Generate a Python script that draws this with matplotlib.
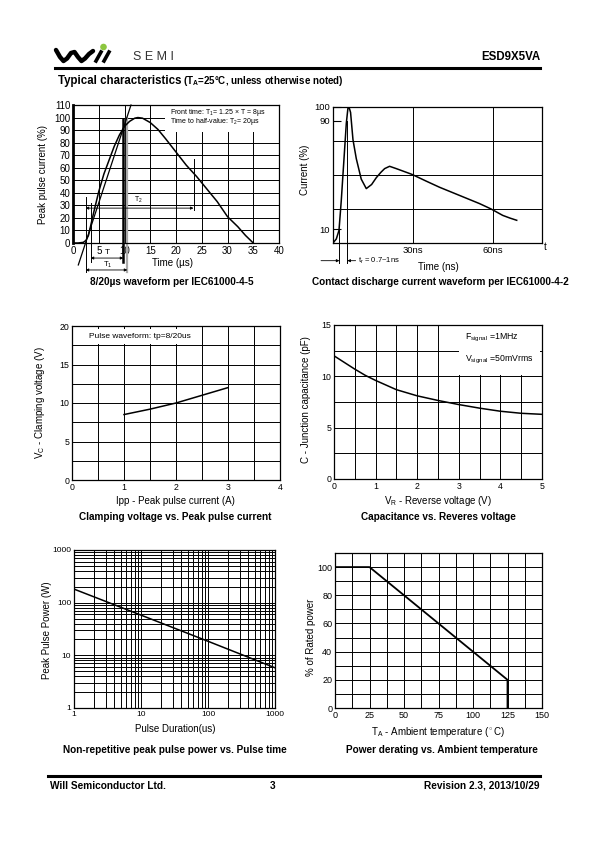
import numpy as np
import matplotlib.pyplot as plt
from matplotlib.patches import Rectangle, Circle
from matplotlib.ticker import MultipleLocator, FuncFormatter, LogLocator

plt.rcParams['font.family'] = ['Liberation Sans', 'DejaVu Sans']
plt.rcParams['mathtext.fontset'] = 'custom'
plt.rcParams['mathtext.rm'] = 'Liberation Sans'
plt.rcParams['mathtext.it'] = 'Liberation Sans:italic'
plt.rcParams['mathtext.bf'] = 'Liberation Sans:bold'

W, H = 595, 842

# ---- data ----
# 8/20us surge waveform (time us, current %)
surge_t = [0, 1, 2, 2.5, 3, 3.5, 4, 5, 6, 7, 8, 9, 10, 11, 12, 12.6, 13.5, 15, 16.5,
           18, 20, 22, 24, 25, 27, 28, 30, 32, 33.5, 35]
surge_i = [0, 0, 0.5, 2, 6, 15, 24, 41, 55, 66, 77, 86, 93, 97, 99.5, 100, 99.5, 96, 90.5,
           83, 72.5, 62, 53, 48, 38, 33, 21, 13, 6, 0]
tangent_t = [1.03, 11.26]
tangent_i = [-17.5, 110]

# ESD contact discharge waveform (time ns, current %)
esd_t = [0, 1.25, 2.25, 3.1, 4, 5, 5.6, 6, 6.6, 7.5, 8.75, 10.6, 12.5, 14.5, 16.25, 18,
         19.4, 21.25, 23.75, 29.6, 35, 40, 45, 50, 55, 59.4, 63.75, 66.5, 69]
esd_i = [0, 3, 9.3, 31, 58, 88, 99, 100, 96, 76, 62, 47, 40, 43, 48, 52, 54.7, 56.4, 54.7,
         50.5, 45.5, 41, 37, 33, 29, 25, 20.3, 18.3, 16.7]

# clamping voltage vs peak pulse current
ipp = [1, 1.5, 2, 2.5, 3]
vc = [8.5, 9.2, 10, 11, 12]

# junction capacitance vs reverse voltage
vr = [0, 0.25, 0.5, 0.75, 1, 1.5, 2, 2.5, 3, 3.5, 4, 4.5, 5]
cj = [12, 11.35, 10.7, 10.1, 9.6, 8.7, 8.1, 7.65, 7.25, 6.9, 6.6, 6.4, 6.3]

# peak pulse power vs pulse duration
tp = [1, 10, 100, 1000]
ppp = [181, 58, 18.5, 5.8]

# power derating
ta = [0, 25, 125, 125]
derate = [100, 100, 20, 0]

GRID = dict(color='black', lw=0.7)
CAP = dict(fontsize=7.2, fontweight='bold', ha='center', va='center')
LAB = dict(fontsize=7, ha='center', va='center')


def box(x0, y0, x1, y1):
    return [x0 / W, 1 - y1 / H, (x1 - x0) / W, (y1 - y0) / H]


def ftext(x, y, s, **kw):
    fig.text(x / W, 1 - y / H, s, **kw)


def fline(x0, x1, y, lw):
    fig.add_artist(plt.Line2D([x0 / W, x1 / W], [1 - y / H, 1 - y / H],
                              color='black', lw=lw))


def style(ax, size):
    ax.set_axisbelow(True)
    ax.tick_params(which='both', length=0, labelsize=size, pad=2)
    for s in ax.spines.values():
        s.set_linewidth(0.9)


fig = plt.figure(figsize=(5.95, 8.42), dpi=100)

# ---- header ----
logo = fig.add_axes(box(50, 42, 125, 66))
logo.set_xlim(50, 125)
logo.set_ylim(66, 42)
logo.axis('off')
logo.plot([56, 60, 63.5, 67, 71, 74.5, 78, 81.5, 85, 89, 93],
          [50, 57, 61, 58.5, 53, 52, 57, 61, 58.5, 54, 51], color='black',
          lw=3.2, solid_capstyle='round')
logo.plot([96, 101], [61, 52], color='black', lw=2.6)
logo.plot([104, 109], [61, 52], color='black', lw=2.6)
logo.add_patch(Circle((103.5, 47), 2.6, color='#8cc63f'))
ftext(133, 57, 'S E M I', fontsize=9, color='#333333', va='center')
ftext(540, 57, 'ESD9X5VA', fontsize=8.3, fontweight='bold', ha='right', va='center')
fline(55, 540, 68, 2.2)
ftext(58, 81, 'Typical characteristics', fontsize=8.3, fontweight='bold', va='center')
ftext(183, 81.5, '(T$_\\mathbf{A}$=25°C, unless otherwise noted)', fontsize=7,
      fontweight='bold', va='center')

# ---- 1: 8/20us waveform ----
ax1 = fig.add_axes(box(73, 105, 279, 243))
ax1.set_xlim(0, 40)
ax1.set_ylim(0, 110)
ax1.set_xticks(range(0, 41, 5))
ax1.set_yticks(range(0, 111, 10))
ax1.grid(True, **GRID)
style(ax1, 7)
ax1.spines['left'].set_linewidth(2)
ax1.add_patch(Rectangle((17.9, 88.5), 22.1, 21.5, facecolor='white', edgecolor='none', zorder=1))
ax1.text(18.8, 104, 'Front time: T$_\\mathrm{1}$= 1.25 × T = 8µs', fontsize=5, va='center')
ax1.text(18.8, 96.5, 'Time to half-value: T$_\\mathrm{2}$= 20µs', fontsize=5, va='center')
ax1.plot(surge_t, surge_i, color='black', lw=1.1, zorder=3)
ax1.plot(tangent_t, tangent_i, color='black', lw=0.9, zorder=3, clip_on=False)
o1, t10, t90, t1e, t2e = 2.46, 3.43, 9.77, 10.55, 23.4
ax1.plot([o1, o1], [37, -23], color='black', lw=0.7, clip_on=False)
ax1.plot([t10, t10], [32, -15], color='black', lw=0.7, clip_on=False)
ax1.plot([t90, t90], [99, -15], color='black', lw=1.8, clip_on=False)
ax1.plot([t1e, t1e], [100, -23], color='#aaaaaa', lw=1.6, clip_on=False)
ax1.plot([t2e, t2e], [26, 67], color='black', lw=0.7)
ARW = dict(arrowstyle='<|-|>', lw=0.6, mutation_scale=4, color='black', shrinkA=0, shrinkB=0)
ax1.annotate('', xy=(t2e, 27.8), xytext=(o1, 27.8), arrowprops=ARW)
ax1.annotate('', xy=(t90, -12), xytext=(t10, -12), arrowprops=ARW, annotation_clip=False)
ax1.annotate('', xy=(t1e, -21.5), xytext=(o1, -21.5), arrowprops=ARW, annotation_clip=False)
ax1.text(12.7, 34, 'T$_\\mathrm{2}$', fontsize=5, ha='center', va='center')
ax1.text(6.7, -7.5, 'T', fontsize=6, ha='center', va='center')
ax1.text(6.7, -17.5, 'T$_\\mathrm{1}$', fontsize=5.5, ha='center', va='center')
ftext(42.5, 175, 'Peak pulse current (%)', rotation=90, **LAB)
ftext(172, 263, 'Time (µs)', **LAB)
ftext(172, 282, '8/20µs waveform per IEC61000-4-5', **CAP)

# ---- 2: ESD waveform ----
ax2 = fig.add_axes(box(333, 107, 542, 243))
ax2.set_xlim(0, 78.5)
ax2.set_ylim(0, 100)
ax2.set_yticks([10, 90, 100])
ax2.set_xticks([30, 60])
ax2.set_xticklabels(['30ns', '60ns'])
for v in [25, 50, 75]:
    ax2.axhline(v, **GRID)
for v in [30, 60]:
    ax2.axvline(v, **GRID)
style(ax2, 6.8)
ax2.tick_params(axis='y', direction='in', length=6, width=0.8, pad=2)
ax2.plot(esd_t, esd_i, color='black', lw=1.1, zorder=3)
r10, r90 = 2.4, 5.4
ax2.plot([r10, r10], [10, -14.5], color='black', lw=0.7, clip_on=False)
ax2.plot([r90, r90], [90, -14.5], color='black', lw=0.7, clip_on=False)
ARW2 = dict(arrowstyle='-|>', lw=0.6, mutation_scale=4, color='black', shrinkA=0, shrinkB=0)
ax2.annotate('', xy=(r10, -13), xytext=(-4.5, -13), arrowprops=ARW2, annotation_clip=False)
ax2.annotate('', xy=(r90, -13), xytext=(8.5, -13), arrowprops=ARW2, annotation_clip=False)
ax2.text(9.5, -13, 't$_\\mathrm{r}$ = 0.7~1ns', fontsize=5.5, va='center')
ax2.text(1.01, -0.03, 't', transform=ax2.transAxes, fontsize=7, va='center')
ftext(305, 170, 'Current (%)', rotation=90, **LAB)
ftext(438, 267, 'Time (ns)', **LAB)
ftext(440, 282, 'Contact discharge current waveform per IEC61000-4-2', **CAP)

# ---- 3: clamping voltage ----
ax3 = fig.add_axes(box(72, 326, 280, 480))
ax3.set_xlim(0, 4)
ax3.set_ylim(0, 20)
ax3.xaxis.set_major_locator(MultipleLocator(1))
ax3.xaxis.set_minor_locator(MultipleLocator(0.5))
ax3.yaxis.set_major_locator(MultipleLocator(5))
ax3.yaxis.set_minor_locator(MultipleLocator(2.5))
ax3.grid(True, which='both', **GRID)
style(ax3, 6.3)
ax3.text(1.3, 18.6, 'Pulse waveform: tp=8/20us', fontsize=6, ha='center', va='center',
         bbox=dict(facecolor='white', edgecolor='none', pad=3), zorder=1)
ax3.plot(ipp, vc, color='black', lw=1.1, zorder=3)
ftext(40, 403, 'V$_\\mathrm{C}$ - Clamping voltage (V)', rotation=90, **LAB)
ftext(175, 501, 'Ipp - Peak pulse current (A)', **LAB)
ftext(175, 517, 'Clamping voltage vs. Peak pulse current', **CAP)

# ---- 4: capacitance ----
ax4 = fig.add_axes(box(334, 325, 542, 479))
ax4.set_xlim(0, 5)
ax4.set_ylim(0, 15)
ax4.xaxis.set_major_locator(MultipleLocator(1))
ax4.xaxis.set_minor_locator(MultipleLocator(0.5))
ax4.yaxis.set_major_locator(MultipleLocator(5))
ax4.yaxis.set_minor_locator(MultipleLocator(2.5))
ax4.grid(True, which='both', **GRID)
style(ax4, 6.3)
ax4.add_patch(Rectangle((3, 10.1), 1.96, 4.9, facecolor='white', edgecolor='none', zorder=1))
ax4.text(3.15, 13.7, 'F$_\\mathrm{signal}$ =1MHz', fontsize=6.3, va='center')
ax4.text(3.15, 11.6, 'V$_\\mathrm{signal}$ =50mVrms', fontsize=6.3, va='center')
ax4.plot(vr, cj, color='black', lw=1.1, zorder=3)
ftext(306, 400, 'C - Junction capacitance (pF)', rotation=90, **LAB)
ftext(438, 501, 'V$_\\mathrm{R}$ - Reverse voltage (V)', **LAB)
ftext(438, 517, 'Capacitance vs. Reveres voltage', **CAP)

# ---- 5: peak pulse power ----
ax5 = fig.add_axes(box(74, 550, 275, 708))
ax5.set_xscale('log')
ax5.set_yscale('log')
ax5.set_xlim(1, 1000)
ax5.set_ylim(1, 1000)
for a in (ax5.xaxis, ax5.yaxis):
    a.set_major_locator(LogLocator(10))
    a.set_minor_locator(LogLocator(10, subs=range(2, 10)))
    a.set_major_formatter(FuncFormatter(lambda v, p: '%d' % round(v)))
    a.set_minor_formatter(FuncFormatter(lambda v, p: ''))
ax5.grid(True, which='both', **GRID)
style(ax5, 6)
ax5.plot(tp, ppp, color='black', lw=1.1, zorder=3)
ftext(47, 630, 'Peak Pulse Power (W)', rotation=90, **LAB)
ftext(175, 729, 'Pulse Duration(us)', **LAB)
ftext(175, 750, 'Non-repetitive peak pulse power vs. Pulse time', **CAP)

# ---- 6: derating ----
ax6 = fig.add_axes(box(335, 553, 542, 708))
ax6.set_xlim(0, 150)
ax6.set_ylim(0, 110)
ax6.xaxis.set_major_locator(MultipleLocator(25))
ax6.xaxis.set_minor_locator(MultipleLocator(12.5))
ax6.yaxis.set_major_locator(MultipleLocator(20))
ax6.yaxis.set_minor_locator(MultipleLocator(10))
ax6.grid(True, which='both', **GRID)
style(ax6, 6.5)
ax6.plot(ta, derate, color='black', lw=1.3, zorder=3)
ftext(311, 637, '% of Rated power', rotation=90, **LAB)
ftext(438, 732, 'T$_\\mathrm{A}$ - Ambient temperature ($^\\circ$C)', **LAB)
ftext(442, 750, 'Power derating vs. Ambient temperature', **CAP)

# ---- footer ----
fline(48, 540, 776, 2.2)
ftext(50, 786, 'Will Semiconductor Ltd.', fontsize=7.3, fontweight='bold', va='center')
ftext(273, 786, '3', fontsize=7.3, fontweight='bold', ha='center', va='center')
ftext(540, 786, 'Revision 2.3, 2013/10/29', fontsize=7.3, fontweight='bold', ha='right',
      va='center')

fig.savefig('out.png', dpi=100)
